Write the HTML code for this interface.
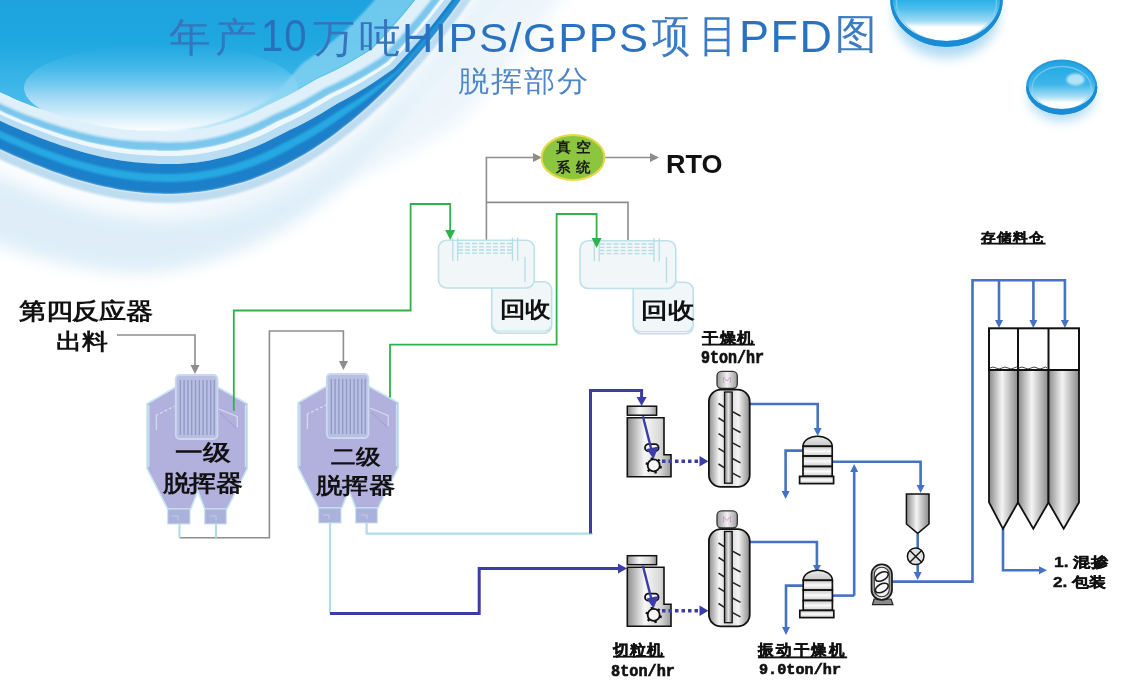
<!DOCTYPE html>
<html><head><meta charset="utf-8">
<style>
html,body{margin:0;padding:0;width:1133px;height:682px;overflow:hidden;background:#fff;}
body{position:relative;font-family:"Liberation Sans",sans-serif;}
svg{position:absolute;left:0;top:0;}
.t{position:absolute;white-space:nowrap;line-height:1;transform-origin:0 0;}
</style></head><body>
<svg width="1133" height="682" viewBox="0 0 1133 682">
<defs>
<clipPath id="swc"><path d="M -20,140 C 113,204 280,266 475,-20 L -20,-20 Z"/></clipPath>
<linearGradient id="hl" x1="0" y1="0" x2="0" y2="1"><stop offset="0" stop-color="#2fb0e5" stop-opacity="0"/><stop offset="0.3" stop-color="#55c0ec" stop-opacity="0.7"/><stop offset="0.62" stop-color="#a6dbf5"/><stop offset="1" stop-color="#ffffff"/></linearGradient>
<path id="L" d="M -20,140 C 113,204 280,266 475,-20"/>
<linearGradient id="swbg" x1="0" y1="0" x2="0" y2="140" gradientUnits="userSpaceOnUse"><stop offset="0" stop-color="#1da2dd"/><stop offset="0.3" stop-color="#1fa7e0"/><stop offset="0.6" stop-color="#3cb6e8"/><stop offset="1" stop-color="#62c4ee"/></linearGradient>
<filter id="blur8" x="-50%" y="-50%" width="200%" height="200%"><feGaussianBlur stdDeviation="8"/></filter>
<filter id="blur1"><feGaussianBlur stdDeviation="1.2"/></filter>
<filter id="blur2"><feGaussianBlur stdDeviation="2"/></filter>
<filter id="blur4"><feGaussianBlur stdDeviation="5"/></filter>
</defs>
<!-- swoosh -->
<path d="M-90.4,132.6 -75.4,139.9 -60.4,147.1 -45.4,154.4 -30.4,161.6 -24.5,164.4 -18.6,167.3 -12.6,170.1 -6.5,172.9 -0.4,175.6 5.8,178.4 12.1,181.1 18.4,183.8 24.7,186.4 31.2,189.0 37.7,191.5 44.2,193.9 50.8,196.3 57.5,198.6 64.2,200.8 71.0,202.9 77.9,204.9 84.8,206.8 91.8,208.5 98.9,210.2 106.0,211.7 113.2,213.0 120.4,214.2 127.7,215.3 135.1,216.2 142.5,216.9 150.0,217.4 157.5,217.7 165.1,217.7 172.7,217.6 180.4,217.3 188.1,216.7 195.9,215.9 203.7,214.9 211.6,213.6 219.5,212.1 227.4,210.4 235.4,208.3 243.3,206.1 251.4,203.5 259.4,200.7 267.4,197.6 275.5,194.3 283.6,190.6 291.7,186.7 299.9,182.4 308.0,177.9 316.1,172.9 324.2,167.5 332.2,161.9 340.3,155.9 348.4,149.6 356.5,143.0 364.6,136.1 372.7,128.8 380.8,121.2 388.9,113.2 397.0,104.9 405.1,96.2 413.3,87.2 421.7,78.0 430.1,68.4 438.6,58.5 447.1,48.1 455.6,37.3 464.1,26.2 472.7,14.6 481.3,2.6 489.9,-9.8 503.2,-29.6 516.6,-49.2 529.9,-68.9 L536.6,-64.4 523.4,-44.6 510.3,-24.8 497.1,-4.9 488.5,7.7 480.0,19.9 471.5,31.7 462.9,43.1 454.4,54.0 446.0,64.6 437.5,74.8 429.0,84.6 420.6,94.0 413.2,104.1 405.9,113.9 398.4,123.3 390.9,132.4 383.4,141.2 375.8,149.7 368.4,158.1 360.9,166.3 353.3,174.1 345.6,181.7 337.8,189.0 330.0,196.1 322.0,202.7 313.8,208.9 305.6,214.8 297.2,220.4 288.8,225.8 280.3,230.8 271.7,235.6 263.1,240.1 254.3,244.3 245.6,248.2 236.7,251.8 227.8,255.2 218.9,258.2 209.9,261.0 200.9,263.5 191.8,265.8 182.8,267.7 173.7,269.4 164.7,270.9 155.7,272.1 146.7,273.1 137.7,273.1 128.9,272.7 120.2,272.1 111.5,271.3 102.9,270.3 94.5,269.1 86.1,267.8 77.8,266.3 69.6,264.7 61.6,263.0 53.6,261.1 45.7,259.2 38.0,257.1 30.3,254.9 22.8,252.6 15.3,250.3 8.0,247.9 0.8,245.5 -6.4,243.0 -13.4,240.4 -20.3,237.9 -27.1,235.3 -33.8,232.7 -40.4,229.9 -46.7,227.0 -52.9,224.0 -59.1,221.1 -74.2,213.8 -89.2,206.5 -104.2,199.3 -119.2,192.0 Z" fill="#d3e8f6" filter="url(#blur8)" opacity="0.75"/>
<path d="M-83.5,118.2 -68.5,125.5 -53.5,132.7 -38.5,140.0 -23.5,147.2 -17.6,150.0 -11.8,152.8 -5.8,155.6 0.1,158.3 6.2,161.0 12.2,163.7 18.4,166.4 24.5,169.0 30.8,171.6 37.0,174.1 43.3,176.5 49.7,178.9 56.1,181.2 62.6,183.4 69.1,185.5 75.6,187.5 82.2,189.5 88.9,191.3 95.6,193.0 102.3,194.5 109.1,196.0 116.0,197.3 122.9,198.4 129.8,199.4 136.8,200.3 143.8,201.0 150.9,201.5 158.0,201.8 165.2,201.9 172.4,201.9 179.7,201.7 187.0,201.2 194.3,200.6 201.7,199.7 209.1,198.6 216.6,197.3 224.1,195.7 231.7,193.9 239.2,191.8 246.9,189.5 254.5,186.9 262.2,184.1 269.9,181.0 277.7,177.6 285.5,173.9 293.3,169.9 301.1,165.6 309.0,161.0 316.9,156.2 324.9,151.0 332.9,145.4 340.9,139.6 348.9,133.4 357.0,126.9 365.1,120.0 373.2,112.8 381.3,105.3 389.5,97.3 397.7,89.0 406.0,80.4 414.3,71.3 422.6,61.9 430.9,52.1 439.3,41.8 447.7,31.2 456.1,20.2 464.6,8.7 473.1,-3.2 481.6,-15.5 495.0,-35.2 508.3,-54.8 521.6,-74.5 L585.0,-31.5 570.8,-12.5 556.5,6.6 542.1,25.9 532.4,38.6 522.7,50.9 513.0,62.9 503.3,74.4 493.6,85.5 484.0,96.3 474.3,106.6 464.6,116.5 455.0,126.1 443.5,133.5 432.1,140.4 420.8,146.9 409.5,152.9 398.4,158.5 387.4,163.7 376.5,168.4 365.7,172.7 355.0,176.6 344.5,180.1 334.1,183.2 323.9,185.9 314.2,188.8 305.2,192.5 296.2,195.8 287.4,198.9 278.6,201.6 269.9,203.9 261.3,206.0 252.7,207.8 244.3,209.3 235.9,210.5 227.6,211.4 219.5,212.1 211.4,212.5 203.4,212.7 195.6,212.6 187.8,212.3 180.2,211.8 172.6,211.0 165.1,210.1 157.8,209.0 150.5,207.7 143.3,206.9 136.2,206.1 129.1,205.1 122.0,204.0 115.0,202.7 108.1,201.3 101.2,199.8 94.3,198.1 87.6,196.3 80.9,194.4 74.2,192.4 67.6,190.2 61.0,188.0 54.5,185.7 48.1,183.3 41.7,180.8 35.4,178.3 29.1,175.7 22.9,173.1 16.7,170.3 10.6,167.6 4.5,164.8 -1.5,162.0 -7.5,159.2 -13.5,156.4 -19.4,153.6 -25.2,150.8 -40.2,143.6 -55.2,136.3 -70.2,129.1 -85.2,121.8 Z" fill="#e2f0f9" filter="url(#blur8)" opacity="0.6"/>
<path d="M-58.1,65.6 -42.9,72.6 -27.8,79.6 -12.7,86.6 2.4,93.5 8.1,96.1 13.7,98.7 19.4,101.2 25.2,103.5 31.0,105.7 36.8,107.8 42.7,109.8 48.5,111.8 54.3,113.7 60.1,115.5 65.8,117.3 71.6,118.9 77.3,120.5 83.1,122.0 88.8,123.3 94.5,124.6 100.2,125.7 105.8,126.8 111.4,127.7 117.0,128.5 122.5,129.2 128.1,129.7 133.5,130.1 139.0,130.4 144.4,130.6 149.8,130.6 155.1,130.6 160.4,131.0 165.7,131.2 171.0,131.2 176.4,131.1 181.7,130.9 187.0,130.5 192.4,130.0 197.8,129.3 203.3,128.4 208.8,127.4 214.3,126.1 219.9,124.7 225.6,123.1 231.3,121.3 237.1,119.2 243.0,117.0 248.9,114.5 255.0,111.7 261.1,108.7 267.3,105.4 273.9,102.4 280.7,99.2 287.7,95.8 294.8,92.0 302.1,87.8 309.4,83.4 317.2,78.9 326.0,75.0 334.9,70.7 344.0,65.9 353.3,60.7 362.8,55.1 372.4,49.0 380.2,40.8 388.2,32.2 396.2,23.1 404.3,13.7 412.4,3.8 420.7,-6.5 428.9,-17.2 437.3,-28.4 445.7,-40.0 459.3,-59.3 473.0,-78.8 486.7,-98.2 L520,-100 L-100,-100 Z" fill="url(#swbg)"/>
<ellipse cx="161" cy="88" rx="137" ry="44" fill="url(#hl)"/>
<path d="M-58.1,65.6 -42.9,72.6 -27.8,79.6 -12.7,86.6 2.4,93.5 8.1,96.1 13.7,98.7 19.4,101.2 25.2,103.5 31.0,105.7 36.8,107.8 42.7,109.8 48.5,111.8 54.3,113.7 60.1,115.5 65.8,117.3 71.6,118.9 77.3,120.5 83.1,122.0 88.8,123.3 94.5,124.6 100.2,125.7 105.8,126.8 111.4,127.7 117.0,128.5 122.5,129.2 128.1,129.7 133.5,130.1 139.0,130.4 144.4,130.6 149.8,130.6 155.1,130.6 160.4,130.7 165.7,130.7 171.0,130.6 176.3,130.4 181.6,129.9 186.9,129.4 192.2,128.6 197.6,127.8 202.9,126.7 208.3,125.5 213.8,124.1 219.3,122.5 224.8,120.7 230.4,118.7 236.0,116.5 241.8,114.1 247.5,111.4 253.4,108.6 259.3,105.4 265.4,102.0 271.0,97.5 276.3,92.2 281.6,86.7 286.9,80.9 292.3,74.8 297.7,68.5 303.5,62.4 310.8,57.5 318.2,52.2 325.7,46.6 333.3,40.5 341.1,34.1 349.0,27.2 356.5,19.5 364.2,11.4 371.9,2.9 379.8,-6.0 387.7,-15.4 395.7,-25.2 403.8,-35.4 412.0,-46.1 420.3,-57.4 434.0,-76.5 447.9,-95.8 461.8,-115.1 L486.7,-98.2 473.0,-78.8 459.3,-59.3 445.7,-40.0 437.3,-28.4 428.9,-17.2 420.7,-6.5 412.4,3.8 404.3,13.7 396.2,23.1 388.2,32.2 380.2,40.8 372.4,49.0 362.8,55.1 353.3,60.7 344.0,65.9 334.9,70.7 326.0,75.0 317.2,78.9 309.4,83.4 302.1,87.8 294.8,92.0 287.7,95.8 280.7,99.2 273.9,102.4 267.3,105.4 261.1,108.7 255.0,111.7 248.9,114.5 243.0,117.0 237.1,119.2 231.3,121.3 225.6,123.1 219.9,124.7 214.3,126.1 208.8,127.4 203.3,128.4 197.8,129.3 192.4,130.0 187.0,130.5 181.7,130.9 176.4,131.1 171.0,131.2 165.7,131.2 160.4,131.0 155.1,130.6 149.8,130.6 144.4,130.6 139.0,130.4 133.5,130.1 128.1,129.7 122.5,129.2 117.0,128.5 111.4,127.7 105.8,126.8 100.2,125.7 94.5,124.6 88.8,123.3 83.1,122.0 77.3,120.5 71.6,118.9 65.8,117.3 60.1,115.5 54.3,113.7 48.5,111.8 42.7,109.8 36.8,107.8 31.0,105.7 25.2,103.5 19.4,101.2 13.7,98.7 8.1,96.1 2.4,93.5 -12.7,86.6 -27.8,79.6 -42.9,72.6 -58.1,65.6 Z" fill="#8ad5f3" opacity="0.75" filter="url(#blur1)"/>
<path d="M-58.1,65.6 -42.9,72.6 -27.8,79.6 -12.7,86.6 2.4,93.5 8.1,96.1 13.7,98.7 19.4,101.2 25.2,103.5 31.0,105.7 36.8,107.8 42.7,109.8 48.5,111.8 54.3,113.7 60.1,115.5 65.8,117.3 71.6,118.9 77.3,120.5 83.1,122.0 88.8,123.3 94.5,124.6 100.2,125.7 105.8,126.8 111.4,127.7 117.0,128.5 122.5,129.2 128.1,129.7 133.5,130.1 139.0,130.4 144.4,130.6 149.8,130.6 155.1,130.6 160.4,131.0 165.7,131.2 171.0,131.2 176.4,131.1 181.7,130.9 187.0,130.5 192.4,130.0 197.8,129.3 203.3,128.4 208.8,127.4 214.3,126.1 219.9,124.7 225.6,123.1 231.3,121.3 237.1,119.2 243.0,117.0 248.9,114.5 255.0,111.7 261.1,108.7 267.3,105.4 273.9,102.4 280.7,99.2 287.7,95.8 294.8,92.0 302.1,87.8 309.4,83.4 317.2,78.9 326.0,75.0 334.9,70.7 344.0,65.9 353.3,60.7 362.8,55.1 372.4,49.0 380.2,40.8 388.2,32.2 396.2,23.1 404.3,13.7 412.4,3.8 420.7,-6.5 428.9,-17.2 437.3,-28.4 445.7,-40.0 459.3,-59.3 473.0,-78.8 486.7,-98.2 L496.7,-91.4 483.0,-72.0 469.3,-52.6 455.6,-33.3 447.1,-21.5 438.6,-10.1 430.3,0.7 421.9,11.2 413.6,21.2 405.4,30.8 397.3,40.0 389.2,48.8 381.1,57.2 371.4,63.5 361.8,69.3 352.3,74.6 343.0,79.5 333.8,84.0 324.8,88.1 316.8,92.7 309.1,97.2 301.5,101.4 294.1,105.2 286.8,108.7 279.6,111.9 272.7,115.0 266.2,118.4 259.8,121.6 253.5,124.5 247.2,127.1 241.1,129.5 235.0,131.6 228.9,133.6 223.0,135.3 217.0,136.8 211.2,138.1 205.4,139.2 199.6,140.1 193.9,140.9 188.2,141.5 182.5,141.9 176.9,142.1 171.3,142.2 165.6,142.2 160.1,141.9 154.5,141.6 148.9,141.5 143.2,141.4 137.6,141.2 131.9,140.8 126.2,140.3 120.4,139.7 114.7,138.9 108.9,138.1 103.1,137.0 97.3,135.9 91.5,134.7 85.6,133.3 79.8,131.9 73.9,130.3 68.0,128.7 62.2,126.9 56.3,125.1 50.4,123.2 44.5,121.2 38.7,119.1 32.8,117.0 26.9,114.9 21.0,112.6 15.2,110.2 9.5,107.6 3.8,105.0 -1.8,102.3 -16.9,95.3 -31.9,88.1 -47.0,81.0 -62.1,73.9 Z" fill="#dff0fa" />
<path d="M-62.1,73.9 -47.0,81.0 -31.9,88.1 -16.9,95.3 -1.8,102.3 3.8,105.0 9.5,107.6 15.2,110.2 21.0,112.6 26.9,114.9 32.8,117.0 38.7,119.1 44.5,121.2 50.4,123.2 56.3,125.1 62.2,126.9 68.0,128.7 73.9,130.3 79.8,131.9 85.6,133.3 91.5,134.7 97.3,135.9 103.1,137.0 108.9,138.1 114.7,138.9 120.4,139.7 126.2,140.3 131.9,140.8 137.6,141.2 143.2,141.4 148.9,141.5 154.5,141.6 160.1,141.9 165.6,142.2 171.3,142.2 176.9,142.1 182.5,141.9 188.2,141.5 193.9,140.9 199.6,140.1 205.4,139.2 211.2,138.1 217.0,136.8 223.0,135.3 228.9,133.6 235.0,131.6 241.1,129.5 247.2,127.1 253.5,124.5 259.8,121.6 266.2,118.4 272.7,115.0 279.6,111.9 286.8,108.7 294.1,105.2 301.5,101.4 309.1,97.2 316.8,92.7 324.8,88.1 333.8,84.0 343.0,79.5 352.3,74.6 361.8,69.3 371.4,63.5 381.1,57.2 389.2,48.8 397.3,40.0 405.4,30.8 413.6,21.2 421.9,11.2 430.3,0.7 438.6,-10.1 447.1,-21.5 455.6,-33.3 469.3,-52.6 483.0,-72.0 496.7,-91.4 L502.5,-87.5 488.9,-68.0 475.3,-48.5 461.7,-29.1 453.2,-17.2 444.7,-5.7 436.3,5.3 428.0,15.9 419.7,26.1 411.4,35.8 403.2,45.2 395.1,54.1 387.0,62.6 377.1,69.0 367.4,75.0 357.8,80.4 348.4,85.5 339.1,90.1 329.9,94.3 321.7,99.0 313.9,103.6 306.2,107.9 298.5,111.9 291.1,115.5 283.7,118.7 276.6,122.0 270.0,125.6 263.4,128.9 256.9,131.9 250.4,134.7 244.0,137.2 237.7,139.5 231.5,141.5 225.3,143.4 219.1,145.0 213.0,146.4 207.0,147.6 201.0,148.6 195.0,149.5 189.1,150.1 183.2,150.6 177.3,150.9 171.4,151.1 165.6,151.1 159.8,150.9 153.9,150.6 148.1,150.4 142.3,150.2 136.4,149.9 130.5,149.4 124.6,148.8 118.8,148.0 112.9,147.1 106.9,146.1 101.0,145.0 95.1,143.7 89.2,142.4 83.2,140.9 77.3,139.3 71.3,137.7 65.4,135.9 59.5,134.0 53.5,132.1 47.6,130.1 41.7,128.0 35.8,125.8 29.9,123.6 24.0,121.4 18.1,119.0 12.3,116.6 6.5,114.0 0.8,111.3 -4.9,108.7 -19.9,101.6 -35.0,94.4 -50.1,87.3 -65.1,80.2 Z" fill="#7ac6ec" filter="url(#blur1)"/>
<path d="M-65.1,80.2 -50.1,87.3 -35.0,94.4 -19.9,101.6 -4.9,108.7 0.8,111.3 6.5,114.0 12.3,116.6 18.1,119.0 24.0,121.4 29.9,123.6 35.8,125.8 41.7,128.0 47.6,130.1 53.5,132.1 59.5,134.0 65.4,135.9 71.3,137.7 77.3,139.3 83.2,140.9 89.2,142.4 95.1,143.7 101.0,145.0 106.9,146.1 112.9,147.1 118.8,148.0 124.6,148.8 130.5,149.4 136.4,149.9 142.3,150.2 148.1,150.4 153.9,150.6 159.8,150.9 165.6,151.1 171.4,151.1 177.3,150.9 183.2,150.6 189.1,150.1 195.0,149.5 201.0,148.6 207.0,147.6 213.0,146.4 219.1,145.0 225.3,143.4 231.5,141.5 237.7,139.5 244.0,137.2 250.4,134.7 256.9,131.9 263.4,128.9 270.0,125.6 276.6,122.0 283.7,118.7 291.1,115.5 298.5,111.9 306.2,107.9 313.9,103.6 321.7,99.0 329.9,94.3 339.1,90.1 348.4,85.5 357.8,80.4 367.4,75.0 377.1,69.0 387.0,62.6 395.1,54.1 403.2,45.2 411.4,35.8 419.7,26.1 428.0,15.9 436.3,5.3 444.7,-5.7 453.2,-17.2 461.7,-29.1 475.3,-48.5 488.9,-68.0 502.5,-87.5 L505.0,-85.8 491.4,-66.3 477.7,-46.8 464.2,-27.4 455.6,-15.5 447.2,-4.0 438.7,7.1 430.3,17.7 422.0,27.9 413.7,37.7 405.5,47.1 397.3,56.1 389.2,64.7 379.4,71.2 369.7,77.3 360.2,83.0 350.8,88.2 341.6,93.0 332.5,97.3 324.3,102.2 316.5,107.0 308.7,111.5 301.1,115.7 293.6,119.5 286.2,122.9 279.1,126.4 272.3,130.0 265.6,133.4 258.9,136.5 252.4,139.3 245.9,141.9 239.4,144.2 233.0,146.3 226.7,148.2 220.4,149.8 214.1,151.3 207.9,152.5 201.8,153.6 195.7,154.4 189.6,155.1 183.5,155.6 177.5,155.9 171.5,156.1 165.5,156.1 159.6,155.9 153.6,155.6 147.7,155.3 141.7,155.0 135.8,154.6 129.8,154.0 123.8,153.3 117.9,152.4 111.9,151.4 105.9,150.3 100.0,149.1 94.0,147.7 88.0,146.2 82.0,144.7 76.1,143.0 70.1,141.2 64.1,139.4 58.2,137.4 52.2,135.4 46.3,133.3 40.4,131.1 34.5,128.9 28.6,126.6 22.7,124.2 16.8,121.8 11.0,119.3 5.3,116.7 -0.5,114.0 -6.2,111.4 -21.2,104.3 -36.3,97.1 -51.4,90.0 -66.4,82.9 Z" fill="#eef7fc" />
<path d="M-66.4,82.9 -51.4,90.0 -36.3,97.1 -21.2,104.3 -6.2,111.4 -0.5,114.0 5.3,116.7 11.0,119.3 16.8,121.8 22.7,124.2 28.6,126.6 34.5,128.9 40.4,131.1 46.3,133.3 52.2,135.4 58.2,137.4 64.1,139.4 70.1,141.2 76.1,143.0 82.0,144.7 88.0,146.2 94.0,147.7 100.0,149.1 105.9,150.3 111.9,151.4 117.9,152.4 123.8,153.3 129.8,154.0 135.8,154.6 141.7,155.0 147.7,155.3 153.6,155.6 159.6,155.9 165.5,156.1 171.5,156.1 177.5,155.9 183.5,155.6 189.6,155.1 195.7,154.4 201.8,153.6 207.9,152.5 214.1,151.3 220.4,149.8 226.7,148.2 233.0,146.3 239.4,144.2 245.9,141.9 252.4,139.3 258.9,136.5 265.6,133.4 272.3,130.0 279.1,126.4 286.2,122.9 293.6,119.5 301.1,115.7 308.7,111.5 316.5,107.0 324.3,102.2 332.5,97.3 341.6,93.0 350.8,88.2 360.2,83.0 369.7,77.3 379.4,71.2 389.2,64.7 397.3,56.1 405.5,47.1 413.7,37.7 422.0,27.9 430.3,17.7 438.7,7.1 447.2,-4.0 455.6,-15.5 464.2,-27.4 477.7,-46.8 491.4,-66.3 505.0,-85.8 L509.9,-82.4 496.3,-63.0 482.7,-43.5 469.1,-24.0 460.5,-12.0 452.0,-0.4 443.5,10.7 435.1,21.4 426.7,31.7 418.3,41.6 410.0,51.0 401.8,60.1 393.6,68.8 383.9,75.6 374.4,82.0 365.0,88.0 355.7,93.6 346.5,98.7 337.5,103.4 329.2,108.5 321.3,113.5 313.4,118.0 305.6,122.3 297.9,126.2 290.3,129.8 283.0,133.4 276.0,137.1 269.1,140.5 262.3,143.7 255.5,146.7 248.7,149.3 242.1,151.7 235.4,153.9 228.9,155.9 222.4,157.6 215.9,159.1 209.5,160.4 203.1,161.5 196.7,162.4 190.4,163.1 184.1,163.6 177.9,163.9 171.7,164.1 165.5,164.1 159.3,163.9 153.2,163.5 147.0,163.2 140.9,162.8 134.8,162.3 128.6,161.6 122.5,160.7 116.4,159.7 110.3,158.6 104.2,157.4 98.1,156.0 92.1,154.6 86.0,153.0 79.9,151.3 73.9,149.5 67.9,147.6 61.8,145.7 55.8,143.6 49.9,141.5 43.9,139.2 37.9,137.0 32.0,134.6 26.1,132.2 20.2,129.8 14.3,127.3 8.5,124.8 2.7,122.1 -3.1,119.4 -8.8,116.8 -23.8,109.7 -38.9,102.5 -54.0,95.4 -69.0,88.3 Z" fill="#b9ddf3" />
<path d="M-69.0,88.3 -54.0,95.4 -38.9,102.5 -23.8,109.7 -8.8,116.8 -3.1,119.4 2.7,122.1 8.5,124.8 14.3,127.3 20.2,129.8 26.1,132.2 32.0,134.6 37.9,137.0 43.9,139.2 49.9,141.5 55.8,143.6 61.8,145.7 67.9,147.6 73.9,149.5 79.9,151.3 86.0,153.0 92.1,154.6 98.1,156.0 104.2,157.4 110.3,158.6 116.4,159.7 122.5,160.7 128.6,161.6 134.8,162.3 140.9,162.8 147.0,163.2 153.2,163.5 159.3,163.9 165.5,164.1 171.7,164.1 177.9,163.9 184.1,163.6 190.4,163.1 196.7,162.4 203.1,161.5 209.5,160.4 215.9,159.1 222.4,157.6 228.9,155.9 235.4,153.9 242.1,151.7 248.7,149.3 255.5,146.7 262.3,143.7 269.1,140.5 276.0,137.1 283.0,133.4 290.3,129.8 297.9,126.2 305.6,122.3 313.4,118.0 321.3,113.5 329.2,108.5 337.5,103.4 346.5,98.7 355.7,93.6 365.0,88.0 374.4,82.0 383.9,75.6 393.6,68.8 401.8,60.1 410.0,51.0 418.3,41.6 426.7,31.7 435.1,21.4 443.5,10.7 452.0,-0.4 460.5,-12.0 469.1,-24.0 482.7,-43.5 496.3,-63.0 509.9,-82.4 L515.0,-79.0 501.7,-59.3 488.3,-39.7 475.0,-20.0 466.5,-7.8 458.1,4.0 449.7,15.4 441.4,26.3 433.1,36.8 424.8,46.9 416.5,56.7 408.3,66.0 400.1,74.9 392.0,83.5 383.9,91.7 375.8,99.5 367.8,106.9 359.8,114.0 351.9,120.7 343.9,127.1 336.1,133.2 328.2,138.9 320.4,144.3 312.6,149.4 304.9,154.2 297.2,158.6 289.6,162.8 281.9,166.7 274.4,170.3 266.8,173.6 259.3,176.6 251.8,179.4 244.4,181.9 237.0,184.1 229.7,186.1 222.4,187.9 215.1,189.4 207.9,190.7 200.7,191.8 193.5,192.6 186.4,193.2 179.3,193.7 172.3,193.9 165.3,193.9 158.3,193.8 151.4,193.5 144.5,193.0 137.7,192.3 130.9,191.5 124.1,190.5 117.4,189.4 110.7,188.1 104.1,186.7 97.5,185.2 90.9,183.5 84.4,181.8 77.9,179.9 71.5,177.9 65.1,175.8 58.8,173.6 52.4,171.4 46.2,169.1 40.0,166.6 33.8,164.2 27.6,161.6 21.5,159.1 15.5,156.4 9.4,153.7 3.5,151.0 -2.5,148.3 -8.3,145.6 -14.2,142.8 -20.0,140.0 -35.0,132.8 -50.0,125.5 -65.0,118.2 -80.0,111.0 Z" fill="#1c7fc9" />
<path d="M-72.6,95.7 -57.6,102.9 -42.6,110.2 -27.6,117.4 -12.6,124.7 -6.9,127.4 -1.1,130.2 4.7,132.9 10.6,135.5 16.5,138.1 22.4,140.6 28.4,143.0 34.4,145.4 40.4,147.8 46.5,150.1 52.5,152.3 58.6,154.4 64.8,156.5 70.9,158.5 77.1,160.3 83.3,162.1 89.5,163.8 95.7,165.3 101.9,166.8 108.2,168.1 114.5,169.3 120.8,170.3 127.1,171.3 133.5,172.1 139.8,172.7 146.2,173.2 152.6,173.5 159.0,173.8 165.4,173.9 171.9,173.9 178.4,173.7 184.9,173.3 191.4,172.7 198.0,171.9 204.6,171.0 211.3,169.8 218.0,168.4 224.7,166.8 231.5,164.9 238.3,162.8 245.2,160.5 252.1,158.0 259.0,155.2 266.1,152.1 273.1,148.7 280.2,145.1 287.4,141.2 294.8,137.4 302.4,133.4 310.1,129.1 317.9,124.5 325.8,119.5 333.7,114.2 341.9,108.7 350.7,103.5 359.7,98.0 368.7,92.0 377.9,85.6 387.1,78.8 396.5,71.5 404.7,62.7 412.9,53.6 421.2,44.0 429.6,34.0 438.0,23.7 446.4,12.9 454.9,1.6 463.4,-10.0 471.9,-22.1 485.4,-41.6 498.9,-61.2 512.4,-80.7 L513.3,-80.1 499.9,-60.5 486.5,-40.9 473.0,-21.3 464.5,-9.2 456.1,2.5 447.7,13.8 439.3,24.7 430.9,35.1 422.6,45.2 414.4,54.8 406.1,64.0 397.9,72.9 389.2,80.7 380.4,88.1 371.8,95.2 363.2,101.8 354.7,108.1 346.3,114.0 338.1,119.8 330.2,125.3 322.2,130.5 314.4,135.4 306.6,139.9 298.9,144.1 291.3,148.2 284.0,152.2 276.6,155.9 269.4,159.4 262.2,162.5 255.0,165.4 247.8,168.1 240.8,170.5 233.7,172.6 226.7,174.5 219.7,176.2 212.8,177.6 205.9,178.8 199.1,179.9 192.3,180.7 185.5,181.3 178.7,181.7 172.0,181.9 165.4,181.9 158.7,181.8 152.1,181.5 145.5,181.1 139.0,180.6 132.4,179.9 125.9,179.0 119.4,178.0 113.0,176.9 106.5,175.6 100.1,174.2 93.8,172.7 87.4,171.1 81.1,169.3 74.8,167.5 68.5,165.5 62.3,163.5 56.1,161.3 49.9,159.1 43.8,156.8 37.7,154.5 31.6,152.1 25.6,149.6 19.6,147.1 13.6,144.5 7.6,141.9 1.8,139.2 -4.1,136.5 -9.9,133.8 -15.7,131.0 -30.6,123.7 -45.6,116.5 -60.6,109.2 -75.6,102.0 Z" fill="#27a9e3" filter="url(#blur1)"/>
<path d="M-80.0,111.0 -65.0,118.2 -50.0,125.5 -35.0,132.8 -20.0,140.0 -14.2,142.8 -8.3,145.6 -2.5,148.3 3.5,151.0 9.4,153.7 15.5,156.4 21.5,159.1 27.6,161.6 33.8,164.2 40.0,166.6 46.2,169.1 52.4,171.4 58.8,173.6 65.1,175.8 71.5,177.9 77.9,179.9 84.4,181.8 90.9,183.5 97.5,185.2 104.1,186.7 110.7,188.1 117.4,189.4 124.1,190.5 130.9,191.5 137.7,192.3 144.5,193.0 151.4,193.5 158.3,193.8 165.3,193.9 172.3,193.9 179.3,193.7 186.4,193.2 193.5,192.6 200.7,191.8 207.9,190.7 215.1,189.4 222.4,187.9 229.7,186.1 237.0,184.1 244.4,181.9 251.8,179.4 259.3,176.6 266.8,173.6 274.4,170.3 281.9,166.7 289.6,162.8 297.2,158.6 304.9,154.2 312.6,149.4 320.4,144.3 328.2,138.9 336.1,133.2 343.9,127.1 351.9,120.7 359.8,114.0 367.8,106.9 375.8,99.5 383.9,91.7 392.0,83.5 400.1,74.9 408.3,66.0 416.5,56.7 424.8,46.9 433.1,36.8 441.4,26.3 449.7,15.4 458.1,4.0 466.5,-7.8 475.0,-20.0 488.3,-39.7 501.7,-59.3 515.0,-79.0 L521.6,-74.5 508.3,-54.8 495.0,-35.2 481.6,-15.5 473.1,-3.2 464.6,8.7 456.1,20.2 447.7,31.2 439.3,41.8 430.9,52.1 422.6,61.9 414.3,71.3 406.0,80.4 397.7,89.0 389.5,97.3 381.3,105.3 373.2,112.8 365.1,120.0 357.0,126.9 349.0,133.5 341.0,139.8 333.1,145.8 325.2,151.5 317.3,156.8 309.5,161.8 301.6,166.5 293.7,170.8 285.9,174.8 278.1,178.5 270.3,181.9 262.6,185.0 254.8,187.9 247.2,190.5 239.5,192.8 231.9,194.8 224.3,196.7 216.8,198.2 209.3,199.6 201.8,200.7 194.4,201.6 187.1,202.2 179.7,202.7 172.4,202.9 165.2,202.9 158.0,202.8 150.9,202.5 143.8,202.0 136.7,201.3 129.7,200.4 122.7,199.4 115.8,198.3 108.9,196.9 102.1,195.5 95.4,193.9 88.6,192.2 82.0,190.4 75.4,188.5 68.8,186.5 62.3,184.4 55.8,182.1 49.4,179.8 43.0,177.5 36.7,175.0 30.4,172.5 24.2,169.9 18.0,167.3 11.8,164.7 5.8,162.0 -0.3,159.2 -6.3,156.5 -12.2,153.7 -18.1,150.9 -23.9,148.1 -38.9,140.9 -53.9,133.6 -68.9,126.4 -83.9,119.1 Z" fill="#bddcf0" filter="url(#blur1)"/>
<!-- droplets -->
<defs>
<radialGradient id="dropIn" cx="0.5" cy="0.15" r="0.85">
<stop offset="0" stop-color="#1aa6e2"/><stop offset="0.5" stop-color="#59c4ee"/><stop offset="0.85" stop-color="#ffffff"/>
</radialGradient>
<linearGradient id="dropIn2" x1="0" y1="0" x2="0" y2="1">
<stop offset="0" stop-color="#1ea8e3"/><stop offset="0.55" stop-color="#7fd0f1"/><stop offset="0.8" stop-color="#ffffff"/><stop offset="1" stop-color="#ffffff"/>
</linearGradient>
<linearGradient id="metal" x1="0" y1="0" x2="1" y2="0">
<stop offset="0" stop-color="#8a8a8a"/><stop offset="0.45" stop-color="#f4f4f4"/><stop offset="1" stop-color="#8a8a8a"/>
</linearGradient>
<linearGradient id="metalV" x1="0" y1="0" x2="0" y2="1">
<stop offset="0" stop-color="#9a9a9a"/><stop offset="0.5" stop-color="#f4f4f4"/><stop offset="1" stop-color="#9a9a9a"/>
</linearGradient>
<filter id="blur6" x="-50%" y="-50%" width="200%" height="200%"><feGaussianBlur stdDeviation="6"/></filter>
<linearGradient id="metalC" x1="0" y1="0" x2="1" y2="0"><stop offset="0" stop-color="#8e8e8e"/><stop offset="0.4" stop-color="#f7f7f7"/><stop offset="0.75" stop-color="#d9d9d9"/><stop offset="1" stop-color="#9a9a9a"/></linearGradient>
<linearGradient id="metalD" x1="0" y1="0" x2="1" y2="0"><stop offset="0" stop-color="#8c8c8c"/><stop offset="0.25" stop-color="#f4f4f4"/><stop offset="0.5" stop-color="#d5d5d5"/><stop offset="0.72" stop-color="#f4f4f4"/><stop offset="1" stop-color="#8a8a8a"/></linearGradient>
<linearGradient id="metalS" x1="0" y1="0" x2="1" y2="0"><stop offset="0" stop-color="#777"/><stop offset="0.5" stop-color="#e6e6e6"/><stop offset="1" stop-color="#777"/></linearGradient>
<linearGradient id="metalM" x1="0" y1="0" x2="1" y2="0"><stop offset="0" stop-color="#9a9a9a"/><stop offset="0.5" stop-color="#f2f2f2"/><stop offset="1" stop-color="#9a9a9a"/></linearGradient>
<linearGradient id="sepV" x1="0" y1="0" x2="0" y2="1"><stop offset="0" stop-color="#c4c4c4"/><stop offset="0.5" stop-color="#fbfbfb"/><stop offset="1" stop-color="#c9c9c9"/></linearGradient>
<linearGradient id="domeV" x1="0" y1="0" x2="0" y2="1"><stop offset="0" stop-color="#ececec"/><stop offset="1" stop-color="#c6c6c6"/></linearGradient>
<linearGradient id="dropBig" x1="0" y1="0" x2="0" y2="1"><stop offset="0.5" stop-color="#2ab1e7"/><stop offset="0.6" stop-color="#4fbfec"/><stop offset="0.73" stop-color="#9fdaf4"/><stop offset="0.8" stop-color="#ffffff"/></linearGradient>
<linearGradient id="dropSmall" x1="0" y1="0" x2="0" y2="1"><stop offset="0" stop-color="#1ea5e2"/><stop offset="0.45" stop-color="#3db6e9"/><stop offset="0.68" stop-color="#a8def6"/><stop offset="0.8" stop-color="#ffffff"/></linearGradient>
</defs>
<ellipse cx="946.5" cy="14.6" rx="52.2" ry="43.2" fill="#8ccbed" opacity="0.7" filter="url(#blur6)"/>
<ellipse cx="946.5" cy="0" rx="55" ry="45.5" fill="#fff"/>
<ellipse cx="946.5" cy="0" rx="55" ry="45.5" fill="url(#dropBig)"/>
<ellipse cx="946.5" cy="1.0" rx="50.0" ry="40.5" fill="none" stroke="#8fd0f0" stroke-width="1.3" opacity="0.7"/>
<ellipse cx="946.5" cy="0" rx="55" ry="45.5" fill="none" stroke="#2a98da" stroke-width="2.2"/>
<path d="M890.3,0 A56.2,46.7 0 0 0 1002.7,0 L1000.2,-1 A53.7,42.0 0 0 1 892.8,-1 Z" fill="#1a8bd5"/>
<ellipse cx="1061.7" cy="95.5" rx="32.8" ry="25.2" fill="#8ccbed" opacity="0.7" filter="url(#blur6)"/>
<ellipse cx="1061.7" cy="87" rx="34.5" ry="26.5" fill="#fff"/>
<ellipse cx="1061.7" cy="87" rx="34.5" ry="26.5" fill="url(#dropSmall)"/>
<ellipse cx="1061.7" cy="88.0" rx="29.5" ry="21.5" fill="none" stroke="#8fd0f0" stroke-width="1.3" opacity="0.7"/>
<ellipse cx="1061.7" cy="87" rx="34.5" ry="26.5" fill="none" stroke="#2a98da" stroke-width="2.2"/>
<path d="M1026.0,87 A35.7,27.7 0 0 0 1097.4,87 L1094.9,86 A33.2,23.0 0 0 1 1028.5,86 Z" fill="#1a8bd5"/>
<ellipse cx="1075.5" cy="79.5" rx="9" ry="6" fill="#d2effb" opacity="0.8" filter="url(#blur1)"/>

<!-- ===== gray process lines ===== -->
<g fill="none" stroke="#8d8d8d" stroke-width="1.6">
<path d="M117,335 H195 V366"/>
<path d="M179.5,537.8 H269.4 V331 H343.4 V362"/>
<path d="M486.4,240.5 V157.5 H534"/>
<path d="M486.4,202.4 H628 V240.5"/>
<path d="M605,157.5 H651"/>
</g>
<g fill="#8d8d8d">
<path d="M190.5,365 L199.5,365 L195,374 Z"/>
<path d="M339,361 L348,361 L343.4,370 Z"/>
<path d="M533,153 L533,162 L542,157.5 Z"/>
<path d="M650,153 L650,162 L659,157.5 Z"/>
</g>
<!-- pale blue lines -->
<g fill="none" stroke="#b2dde6" stroke-width="2.2">
<path d="M179.5,524 V537.8"/>
<path d="M216,524 V537.8"/>
<path d="M330,522 V613.4"/>
<path d="M366.6,522 V533.6 H592.6"/>
</g>
<!-- vacuum system -->
<ellipse cx="573" cy="157.5" rx="31.5" ry="22.5" fill="#8cc63f" stroke="#e9d84a" stroke-width="2"/>

<!-- condensers -->
<g id="cond">
<rect x="491.7" y="281.8" width="60" height="51.5" rx="8" fill="#f1f7f9" stroke="#bfe0e8" stroke-width="1.6"/>
<path d="M493,326 Q493,331 499,331 H544 Q550,331 550,326" fill="none" stroke="#c2e1e9" stroke-width="1.2"/>
<rect x="438.5" y="240.3" width="95.8" height="47.7" rx="8" fill="#f1f7f9" stroke="#bfe0e8" stroke-width="1.6"/>
<g stroke="#b5dde4" stroke-width="1.3" fill="none">
<path d="M452.8,237.5 V261 M457.7,237.5 V261 M512.5,237.5 V261 M517.7,237.5 V261 M525,256.7 V282"/>
<path d="M458,243.5 H512.5 M458,246.8 H512.5 M458,250 H512.5 M458,253.2 H512.5" stroke-dasharray="5,2"/>
</g>
</g>
<use href="#cond" transform="translate(141.5,0.5)"/>

<!-- reactors -->
<g id="reac">
<path d="M147,403.7 L175.8,387 V380 Q175.8,375 181,375 H212 Q217.4,375 217.4,380 V387 L247.3,403.7 V468.5 L227,509 H204.7 L197.8,491 L190.8,509 H167.7 L147,468.5 Z" fill="#b2b1dd" stroke="#c9e6f0" stroke-width="1.6"/>
<rect x="175.8" y="375" width="41.6" height="64" rx="4" fill="#b9bfe3" stroke="#c8d9f0" stroke-width="1.8"/>
<g stroke="#8f99c7" stroke-width="1.3">
<path d="M180.3,380 V435 M184.1,380 V435 M187.9,380 V435 M191.7,380 V435 M195.5,380 V435 M199.3,380 V435 M203.1,380 V435 M206.9,380 V435 M210.7,380 V435 M214.2,380 V435"/>
</g>
<path d="M155.5,415.5 L175,406" stroke="#cfdcf0" stroke-width="1.3" stroke-dasharray="3,2"/>
<path d="M156.4,415.5 V430" stroke="#cfdcf0" stroke-width="1.3"/>
<path d="M219,409 L237.3,416.6 V427" fill="none" stroke="#cfdcf0" stroke-width="1.3"/>
<path d="M220,413 L236,428" fill="none" stroke="#9d9ccc" stroke-width="1"/>
<path d="M245.5,405 V467" stroke="#c8e4ee" stroke-width="1.3"/>
<path d="M148.8,405 V467" stroke="#c8e4ee" stroke-width="1.3"/>
<rect x="167.7" y="509" width="22.3" height="15" fill="#aab2dc" stroke="#c6e2ee" stroke-width="1"/>
<rect x="204.7" y="509" width="21.6" height="15" fill="#aab2dc" stroke="#c6e2ee" stroke-width="1"/>
<path d="M172,516 h6 v4 M210,516 h6 v4" fill="none" stroke="#c3cbe8" stroke-width="1"/>
</g>
<use href="#reac" transform="translate(151,-1)"/>

<!-- green lines -->
<g fill="none" stroke="#2fb24c" stroke-width="1.8">
<path d="M233.8,410.7 V310.5 H410.6 V204 H450.2 V232"/>
<path d="M390,397.6 V344.6 H556.6 V214 H596.6 V240"/>
</g>
<g fill="#2fb24c">
<path d="M445.2,230 L455.2,230 L450.2,240 Z"/>
<path d="M591.6,238 L601.6,238 L596.6,248 Z"/>
</g>

<!-- navy lines -->
<g fill="none" stroke="#3b3ca7" stroke-width="3">
<path d="M590.5,533.6 V390.6 H641.6 V398"/>
<path d="M330,613.4 H479.2 V568.4 H620"/>
</g>
<g fill="#3b3ca7">
<path d="M636.6,397 L646.6,397 L641.6,406 Z"/>
<path d="M618,563.4 L618,573.4 L627,568.4 Z"/>
</g>

<!-- medium blue lines -->
<g fill="none" stroke="#4472c4" stroke-width="2.6">
<path d="M749.6,404 H817.7 V428"/>
<path d="M803,450.6 H785.6 V492"/>
<path d="M832.2,461.8 H920.6 V486"/>
<path d="M854.2,595.6 V471"/>
<path d="M749.6,542 H816.9 V566"/>
<path d="M803.3,585.6 H786 V628"/>
<path d="M831.5,595.6 H854.3"/>
<path d="M917.7,534 V548"/>
<path d="M917.7,564.5 V573"/>
<path d="M892,581.6 H972.5 V280.2 H1064.9 V321"/>
<path d="M999,280.2 V321"/>
<path d="M1033.4,280.2 V321"/>
<path d="M1003,528.8 V570.3 H1040"/>
</g>
<g fill="#4472c4">
<path d="M813.7,428.0 H821.7 L817.7,436.0 Z"/>
<path d="M781.6,491.0 H789.6 L785.6,499.0 Z"/>
<path d="M916.6,485.0 H924.6 L920.6,493.0 Z"/>
<path d="M850.2,472.0 H858.2 L854.2,464.0 Z"/>
<path d="M812.9,565.0 H820.9 L816.9,572.5 Z"/>
<path d="M782.0,627.0 H790.0 L786.0,635.0 Z"/>
<path d="M913.7,572.0 H921.7 L917.7,580.0 Z"/>
<path d="M995.0,320.0 H1003.0 L999.0,328.0 Z"/>
<path d="M1029.4,320.0 H1037.4 L1033.4,328.0 Z"/>
<path d="M1060.9,320.0 H1068.9 L1064.9,328.0 Z"/>
<path d="M1039.0,566.3 V574.3 L1047.0,570.3 Z"/>
</g>

<!-- cutters -->
<g id="cut">
<rect x="627.3" y="406.2" width="29.3" height="9" fill="url(#metalC)" stroke="#111" stroke-width="1.5"/>
<path d="M627.3,417.8 H664 V454.8 H671 V476.8 H627.3 Z" fill="url(#metalC)" stroke="#111" stroke-width="1.6"/>
<rect x="645" y="444.2" width="13.6" height="7" rx="3.5" fill="#f4f4f4" stroke="#111" stroke-width="1.8"/>
<circle cx="653.7" cy="465.4" r="6" fill="#f6f6f6" stroke="#111" stroke-width="1.8"/>
<path d="M659.5,467.0 L661.7,467.5 M655.3,471.2 L655.8,473.4 M649.5,469.6 L647.8,471.3 M647.9,463.8 L645.7,463.3 M652.1,459.6 L651.6,457.4 M657.9,461.2 L659.6,459.5" stroke="#111" stroke-width="2.4"/>
<path d="M642.9,416.3 L651.5,450" stroke="#3b3ca7" stroke-width="2.4"/>
<path d="M646.5,449 L658.5,446.5 L653.6,459 Z" fill="#3b3ca7"/>
<path d="M662,461.2 H700" stroke="#3b3ca7" stroke-width="3.4" stroke-dasharray="3.5,3"/>
<path d="M699.5,456 L699.5,466.4 L708.4,461.2 Z" fill="#3b3ca7"/>
</g>
<use href="#cut" transform="translate(0,149.5)"/>

<!-- dryers -->
<g id="dry">
<rect x="717" y="371.4" width="20.3" height="17.1" rx="4.5" fill="url(#metalM)" stroke="#333" stroke-width="1.3"/>
<path d="M723.5,383 v-6 l3.5,4 l3.5,-4 v6" fill="none" stroke="#c9a0c8" stroke-width="1"/>
<rect x="708.9" y="389.7" width="40.8" height="97.2" rx="12" fill="url(#metalD)" stroke="#111" stroke-width="1.8"/>
<rect x="724.5" y="392" width="7.7" height="91.2" fill="url(#metalS)" stroke="#111" stroke-width="1.3"/>
<g stroke="#222" stroke-width="1.5">
<path d="M718.5,403.5 L724.5,407.3 M718.5,418 L724.5,421.8 M718.5,433.7 L724.5,437.5 M718.5,448.4 L724.5,452.2 M718.5,464 L724.5,467.8"/>
<path d="M732.5,411.7 L740.5,416 M732.5,428.2 L740.5,432.5 M732.5,442.9 L740.5,447.2 M732.5,458.5 L740.5,462.8 M732.5,473.1 L740.5,477.4"/>
</g>
</g>
<use href="#dry" transform="translate(0,139.5)"/>

<!-- separators -->
<g id="sep">
<path d="M803,446.3 A14.6,10 0 0 1 832.2,446.3 Z" fill="url(#domeV)" stroke="#111" stroke-width="1.5"/>
<rect x="803" y="446.3" width="29.2" height="9.8" fill="url(#sepV)" stroke="#111" stroke-width="1.7"/>
<rect x="803" y="456.1" width="29.2" height="10.4" fill="url(#sepV)" stroke="#111" stroke-width="1.7"/>
<rect x="803" y="466.5" width="29.2" height="9.9" fill="url(#sepV)" stroke="#111" stroke-width="1.7"/>
<rect x="799.6" y="476.4" width="34" height="7.2" fill="url(#sepV)" stroke="#111" stroke-width="1.7"/>
</g>
<use href="#sep" transform="translate(0.2,134)"/>

<!-- hopper / valve / blower -->
<path d="M906.4,494 H929 V524 L917.7,533.4 L906.4,524 Z" fill="url(#metal)" stroke="#111" stroke-width="1.5"/>
<circle cx="915.7" cy="556.3" r="8.3" fill="#e2e2e2" stroke="#111" stroke-width="1.5"/>
<path d="M909.8,550.4 L921.6,562.2 M921.6,550.4 L909.8,562.2" stroke="#111" stroke-width="1.4"/>
<path d="M874,599 H891 L893,604.6 H872.5 Z" fill="#8a8a8a" stroke="#222" stroke-width="1.2"/>
<rect x="871.5" y="564.3" width="20.5" height="35.5" rx="10" fill="url(#metalM)" stroke="#1a1a1a" stroke-width="1.7"/>
<rect x="874.3" y="567.3" width="14.9" height="29.5" rx="7.4" fill="#f2f2f2" stroke="#333" stroke-width="1.1"/>
<ellipse cx="881.8" cy="576.5" rx="7" ry="3.9" transform="rotate(-28 881.8 576.5)" fill="#fbfbfb" stroke="#1a1a1a" stroke-width="1.6"/>
<ellipse cx="881.8" cy="588" rx="7" ry="3.9" transform="rotate(-28 881.8 588)" fill="#fbfbfb" stroke="#1a1a1a" stroke-width="1.6"/>

<!-- silos -->
<g stroke="#111" stroke-width="2">
<rect x="989" y="328.3" width="90" height="41.7" fill="#fff"/>
<path d="M1018,328.3 V370 M1048.5,328.3 V370"/>
</g>
<path d="M990,368 q3,-2 6,0 t6,0 t6,0 t6,0 t4,0 M1019,368 q3,-2 6,0 t6,0 t6,0 t6,0 t4,0" fill="none" stroke="#333" stroke-width="0.9"/>
<g stroke="#111" stroke-width="1.8">
<path d="M989,370 H1018 V502.4 L1003,528.8 L989,502.4 Z" fill="url(#metal)"/>
<path d="M1018,370 H1048.5 V502.4 L1033.3,528.8 L1018,502.4 Z" fill="url(#metal)"/>
<path d="M1048.5,370 H1079 V502.4 L1063.7,528.8 L1048.5,502.4 Z" fill="url(#metal)"/>
</g>
</svg>
<!--TEXTS-->
<div class="t" id="t0a" style="left:168.60px;top:16.79px;font-size:42px;color:#3575bd;letter-spacing:4px;transform:scale(1.0036,0.9601);">年产</div>
<div class="t" id="t0b" style="left:261.24px;top:13.72px;font-size:43px;color:#2a6fba;letter-spacing:1px;transform:scale(0.9318,1.0356);">10</div>
<div class="t" id="t0c" style="left:312.59px;top:17.57px;font-size:42px;color:#3575bd;letter-spacing:4px;transform:scale(1.0059,0.9594);">万吨</div>
<div class="t" id="t0d" style="left:401.76px;top:16.98px;font-size:43px;color:#2a72c0;letter-spacing:1.5px;transform:scale(1.0093,0.9649);">HIPS/GPPS</div>
<div class="t" id="t0e" style="left:652.17px;top:13.61px;font-size:42px;color:#3d7cc4;letter-spacing:10px;transform:scale(0.9059,1.0663);">项目</div>
<div class="t" id="t0f" style="left:739.44px;top:13.57px;font-size:43px;color:#2a72c0;letter-spacing:1.5px;transform:scale(1.0446,1.0501);">PFD</div>
<div class="t" id="t0g" style="left:835.22px;top:13.81px;font-size:42px;color:#3d7cc4;transform:scale(0.9921,0.9766);">图</div>
<div class="t" id="t1" style="left:458.00px;top:66.99px;font-size:31px;color:#4f86c8;letter-spacing:2px;transform:scale(1.0001,0.9304);">脱挥部分</div>
<div class="t" id="rto" style="left:665.92px;top:151.00px;font-size:26px;font-weight:bold;color:#111;transform:scale(1.0385,1.0000);">RTO</div>
<div class="t" id="vac1" style="left:556.00px;top:140.00px;font-size:14px;font-weight:bold;color:#1a1a1a;letter-spacing:5px;transform:scale(1.0312,0.9656);">真空</div>
<div class="t" id="vac2" style="left:556.00px;top:160.00px;font-size:14px;font-weight:bold;color:#1a1a1a;letter-spacing:5px;transform:scale(1.0303,1.0000);">系统</div>
<div class="t" id="hs1" style="left:500.06px;top:298.17px;font-size:26px;font-weight:bold;color:#111;transform:scale(0.9804,0.8417);">回收</div>
<div class="t" id="hs2" style="left:640.95px;top:299.11px;font-size:26px;font-weight:bold;color:#111;transform:scale(1.0200,0.8417);">回收</div>
<div class="t" id="d4" style="left:19.00px;top:299.85px;font-size:26px;font-weight:bold;color:#111;transform:scale(1.0270,0.8716);">第四反应器</div>
<div class="t" id="cl" style="left:56.02px;top:330.00px;font-size:26px;font-weight:bold;color:#111;transform:scale(0.9903,0.8429);">出料</div>
<div class="t" id="r1a" style="left:174.94px;top:442.16px;font-size:26px;font-weight:bold;color:#111;transform:scale(1.0629,0.8400);">一级</div>
<div class="t" id="r1b" style="left:163.00px;top:471.98px;font-size:26px;font-weight:bold;color:#111;transform:scale(1.0142,0.8658);">脱挥器</div>
<div class="t" id="r2a" style="left:331.00px;top:445.65px;font-size:26px;font-weight:bold;color:#111;transform:scale(0.9712,0.8242);">二级</div>
<div class="t" id="r2b" style="left:315.80px;top:474.00px;font-size:26px;font-weight:bold;color:#111;transform:scale(1.0103,0.8462);">脱挥器</div>
<div class="t" id="gz" style="left:701.98px;top:330.91px;font-size:16px;font-weight:bold;color:#111;letter-spacing:2px;text-decoration:underline;text-decoration-thickness:2px;-webkit-text-stroke:0.5px #111;transform:scale(0.9818,0.9063);">干燥机</div>
<div class="t" id="gzt" style="left:701.00px;top:349.93px;font-size:15px;font-weight:bold;color:#111;font-family:'Liberation Mono',monospace;-webkit-text-stroke:0.6px #111;transform:scale(1.0003,1.2221);">9ton/hr</div>
<div class="t" id="ql" style="left:612.98px;top:642.91px;font-size:16px;font-weight:bold;color:#111;letter-spacing:2px;text-decoration:underline;text-decoration-thickness:2px;-webkit-text-stroke:0.5px #111;transform:scale(0.9546,0.9127);">切粒机</div>
<div class="t" id="qlt" style="left:610.79px;top:664.00px;font-size:15px;font-weight:bold;color:#111;font-family:'Liberation Mono',monospace;-webkit-text-stroke:0.6px #111;transform:scale(1.0146,1.0474);">8ton/hr</div>
<div class="t" id="zd" style="left:758.18px;top:642.78px;font-size:16px;font-weight:bold;color:#111;letter-spacing:2px;text-decoration:underline;text-decoration-thickness:2px;-webkit-text-stroke:0.5px #111;transform:scale(0.9903,0.9589);">振动干燥机</div>
<div class="t" id="zdt" style="left:759.00px;top:663.16px;font-size:15px;font-weight:bold;color:#111;font-family:'Liberation Mono',monospace;-webkit-text-stroke:0.6px #111;transform:scale(1.0127,1.0329);">9.0ton/hr</div>
<div class="t" id="cc" style="left:981.01px;top:231.03px;font-size:14px;font-weight:bold;color:#111;letter-spacing:2px;text-decoration:underline;text-decoration-thickness:2px;-webkit-text-stroke:0.5px #111;transform:scale(1.0094,0.9012);">存储料仓</div>
<div class="t" id="m1" style="left:1053.75px;top:555.18px;font-size:15px;font-weight:bold;color:#111;-webkit-text-stroke:0.4px #111;transform:scale(1.1587,0.9375);">1. 混掺</div>
<div class="t" id="m2" style="left:1053.33px;top:575.00px;font-size:15px;font-weight:bold;color:#111;-webkit-text-stroke:0.4px #111;transform:scale(1.1442,0.9454);">2. 包装</div>
<!--/TEXTS-->
</body></html>
